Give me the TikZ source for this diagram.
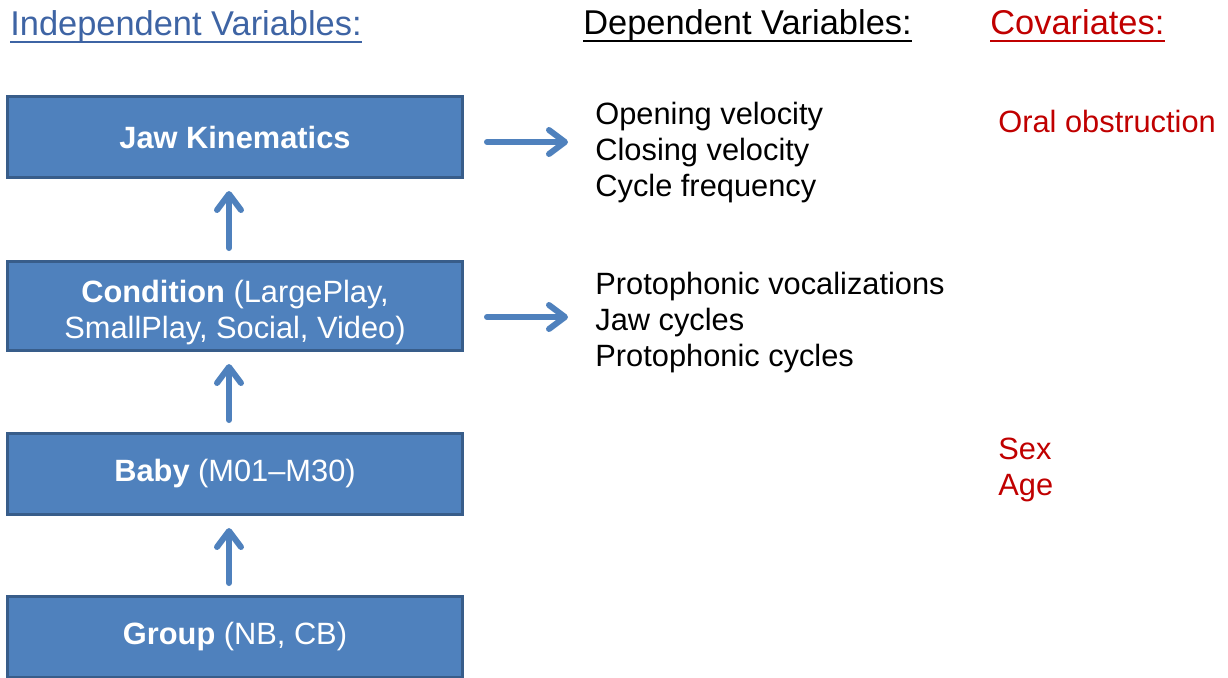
\documentclass[tikz,border=0pt]{standalone}
\usepackage{fontspec}
\setmainfont{Liberation Sans}
\usetikzlibrary{arrows.meta}

\definecolor{boxblue}{RGB}{79,129,189}
\definecolor{boxedge}{RGB}{56,93,138}
\definecolor{headblue}{RGB}{62,100,164}
\definecolor{covred}{RGB}{192,0,0}

\tikzset{
  varbox/.style={draw=boxedge, fill=boxblue, line width=1.5pt, text=white,
    minimum width=227.5pt, minimum height=40.5pt, align=center, inner sep=0pt,
    font=\fontsize{15.4}{18}\selectfont},
  vartext/.style={anchor=base west, align=left, inner sep=0pt,
    font=\fontsize{15.4}{17.8}\selectfont},
  header/.style={anchor=base west, inner sep=0pt,
    font=\fontsize{17.2}{20}\selectfont},
  flow/.style={draw=boxblue, line width=3pt, line cap=round,
    -{Straight Barb[length=8pt,width=12pt,line cap=round,line join=round]}}
}

\begin{document}
\begin{tikzpicture}[x=0.5pt, y=-0.5pt]
\useasboundingbox (0,0) rectangle (1228,677);

% headers
\node[header, text=headblue] (indep) at (10,35) {Independent Variables:};
\node[header] (dep) at (583,34) {Dependent Variables:};
\node[header, text=covred] (cov) at (990,34) {Covariates:};
\draw[headblue, line width=1pt] ([yshift=-3.5pt]indep.base west) -- ([yshift=-3.5pt]indep.base east);
\draw[black, line width=1pt] ([yshift=-3.5pt]dep.base west) -- ([yshift=-3.5pt]dep.base east);
\draw[covred, line width=1pt] ([yshift=-3.5pt]cov.base west) -- ([yshift=-3.5pt]cov.base east);

% independent variables
\node[varbox] (jaw) at (235,137) {\textbf{Jaw Kinematics}};
\node[varbox, minimum height=44.5pt] (cond) at (235,306)
    {\rule{0pt}{17.9pt}\textbf{Condition} (LargePlay,\\SmallPlay, Social, Video)};
\node[varbox] (baby) at (235,474) {\textbf{Baby} (M01--M30)};
\node[varbox] (group) at (235,637) {\textbf{Group} (NB, CB)};

% dependent variables (anchored at last baseline)
\node[vartext] (jawdv) at (595,196) {Opening velocity\\Closing velocity\\Cycle frequency};
\node[vartext] (conddv) at (595,366) {Protophonic vocalizations\\Jaw cycles\\Protophonic cycles};

% covariates
\node[vartext, text=covred] (oral) at (998,132) {Oral obstruction};
\node[vartext, text=covred] (sexage) at (998,495) {Sex\\Age};

% arrows
\draw[flow, shorten <=6pt, shorten >=6pt] ([xshift=-3pt]cond.north) -- ([xshift=-3pt]jaw.south);
\draw[flow, shorten <=6pt, shorten >=6pt] ([xshift=-3pt]baby.north) -- ([xshift=-3pt]cond.south);
\draw[flow, shorten <=6pt, shorten >=6pt] ([xshift=-3pt]group.north) -- ([xshift=-3pt]baby.south);
\draw[flow, shorten <=11.5pt, shorten >=13.5pt] ([yshift=-2.5pt]jaw.east) -- ([yshift=-2.5pt]jaw.east -| jawdv.west);
\draw[flow, shorten <=11.5pt, shorten >=13.5pt] ([yshift=-5.5pt]cond.east) -- ([yshift=-5.5pt]cond.east -| conddv.west);
\end{tikzpicture}
\end{document}
